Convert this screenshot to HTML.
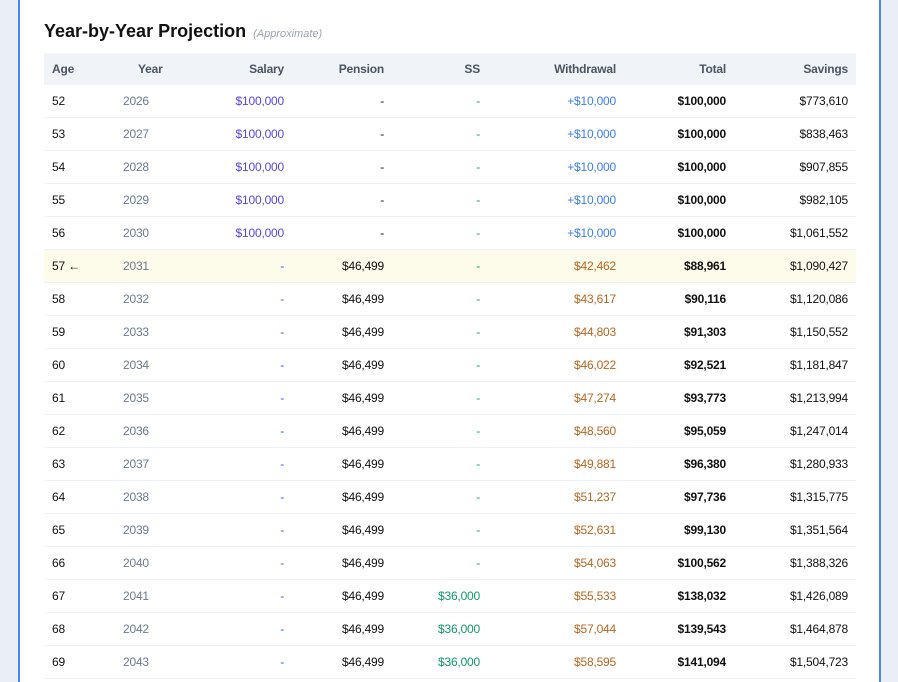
<!DOCTYPE html>
<html style="overflow:hidden;height:682px"><head><style>
html,body{margin:0;width:898px;height:682px;overflow:hidden;}
body{position:relative;background:#e9eef7;font-family:"Liberation Sans",sans-serif;}
.card{position:absolute;left:18px;top:-12px;width:859px;height:710px;background:#fff;border:2px solid #4a86f0;border-radius:12px;}
h2{position:absolute;left:44px;top:21px;margin:0;font-size:18px;font-weight:bold;color:#111;white-space:nowrap;}
h2 span{font-size:11px;font-weight:normal;font-style:italic;color:#9aa3b2;margin-left:2px;}
.tbl{position:absolute;left:44px;top:53px;width:812px;}
.r{position:relative;height:32px;border-bottom:1px solid #eef1f5;font-size:12px;line-height:32px;color:#111;letter-spacing:-0.2px;}
.h{background:#f0f3f8;border-bottom:none;font-weight:bold;color:#4b5563;height:32px;}
.r span{position:absolute;white-space:nowrap;}
.a{left:8px}.y{left:79px;color:#6b7a90}.s{right:572px}.p{right:472px}.ss{right:376px}.w{right:240px}.t{right:130px;font-weight:bold}.sv{right:8px}
.hl{background:#fdfbea}
.sal{color:#5a45e6}.bl{color:#2563eb}.gr{color:#0f9a6a}.wb{color:#3b7ff0}.wo{color:#b9651f}
</style></head><body>
<div class="card"></div>
<h2>Year-by-Year Projection <span>(Approximate)</span></h2>
<div class="tbl">
<div class="r h"><span class="a">Age</span><span style="left:94px">Year</span><span class="s">Salary</span><span class="p">Pension</span><span class="ss">SS</span><span class="w">Withdrawal</span><span class="t">Total</span><span class="sv">Savings</span></div>
<div class="r"><span class="a">52</span><span class="y">2026</span><span class="s sal">$100,000</span><span class="p">-</span><span class="ss gr">-</span><span class="w wb">+$10,000</span><span class="t">$100,000</span><span class="sv">$773,610</span></div>
<div class="r"><span class="a">53</span><span class="y">2027</span><span class="s sal">$100,000</span><span class="p">-</span><span class="ss gr">-</span><span class="w wb">+$10,000</span><span class="t">$100,000</span><span class="sv">$838,463</span></div>
<div class="r"><span class="a">54</span><span class="y">2028</span><span class="s sal">$100,000</span><span class="p">-</span><span class="ss gr">-</span><span class="w wb">+$10,000</span><span class="t">$100,000</span><span class="sv">$907,855</span></div>
<div class="r"><span class="a">55</span><span class="y">2029</span><span class="s sal">$100,000</span><span class="p">-</span><span class="ss gr">-</span><span class="w wb">+$10,000</span><span class="t">$100,000</span><span class="sv">$982,105</span></div>
<div class="r"><span class="a">56</span><span class="y">2030</span><span class="s sal">$100,000</span><span class="p">-</span><span class="ss gr">-</span><span class="w wb">+$10,000</span><span class="t">$100,000</span><span class="sv">$1,061,552</span></div>
<div class="r hl"><span class="a">57 ←</span><span class="y">2031</span><span class="s bl">-</span><span class="p">$46,499</span><span class="ss gr">-</span><span class="w wo">$42,462</span><span class="t">$88,961</span><span class="sv">$1,090,427</span></div>
<div class="r"><span class="a">58</span><span class="y">2032</span><span class="s bl">-</span><span class="p">$46,499</span><span class="ss gr">-</span><span class="w wo">$43,617</span><span class="t">$90,116</span><span class="sv">$1,120,086</span></div>
<div class="r"><span class="a">59</span><span class="y">2033</span><span class="s bl">-</span><span class="p">$46,499</span><span class="ss gr">-</span><span class="w wo">$44,803</span><span class="t">$91,303</span><span class="sv">$1,150,552</span></div>
<div class="r"><span class="a">60</span><span class="y">2034</span><span class="s bl">-</span><span class="p">$46,499</span><span class="ss gr">-</span><span class="w wo">$46,022</span><span class="t">$92,521</span><span class="sv">$1,181,847</span></div>
<div class="r"><span class="a">61</span><span class="y">2035</span><span class="s bl">-</span><span class="p">$46,499</span><span class="ss gr">-</span><span class="w wo">$47,274</span><span class="t">$93,773</span><span class="sv">$1,213,994</span></div>
<div class="r"><span class="a">62</span><span class="y">2036</span><span class="s bl">-</span><span class="p">$46,499</span><span class="ss gr">-</span><span class="w wo">$48,560</span><span class="t">$95,059</span><span class="sv">$1,247,014</span></div>
<div class="r"><span class="a">63</span><span class="y">2037</span><span class="s bl">-</span><span class="p">$46,499</span><span class="ss gr">-</span><span class="w wo">$49,881</span><span class="t">$96,380</span><span class="sv">$1,280,933</span></div>
<div class="r"><span class="a">64</span><span class="y">2038</span><span class="s bl">-</span><span class="p">$46,499</span><span class="ss gr">-</span><span class="w wo">$51,237</span><span class="t">$97,736</span><span class="sv">$1,315,775</span></div>
<div class="r"><span class="a">65</span><span class="y">2039</span><span class="s bl">-</span><span class="p">$46,499</span><span class="ss gr">-</span><span class="w wo">$52,631</span><span class="t">$99,130</span><span class="sv">$1,351,564</span></div>
<div class="r"><span class="a">66</span><span class="y">2040</span><span class="s bl">-</span><span class="p">$46,499</span><span class="ss gr">-</span><span class="w wo">$54,063</span><span class="t">$100,562</span><span class="sv">$1,388,326</span></div>
<div class="r"><span class="a">67</span><span class="y">2041</span><span class="s bl">-</span><span class="p">$46,499</span><span class="ss gr">$36,000</span><span class="w wo">$55,533</span><span class="t">$138,032</span><span class="sv">$1,426,089</span></div>
<div class="r"><span class="a">68</span><span class="y">2042</span><span class="s bl">-</span><span class="p">$46,499</span><span class="ss gr">$36,000</span><span class="w wo">$57,044</span><span class="t">$139,543</span><span class="sv">$1,464,878</span></div>
<div class="r"><span class="a">69</span><span class="y">2043</span><span class="s bl">-</span><span class="p">$46,499</span><span class="ss gr">$36,000</span><span class="w wo">$58,595</span><span class="t">$141,094</span><span class="sv">$1,504,723</span></div>
</div>
</body></html>
